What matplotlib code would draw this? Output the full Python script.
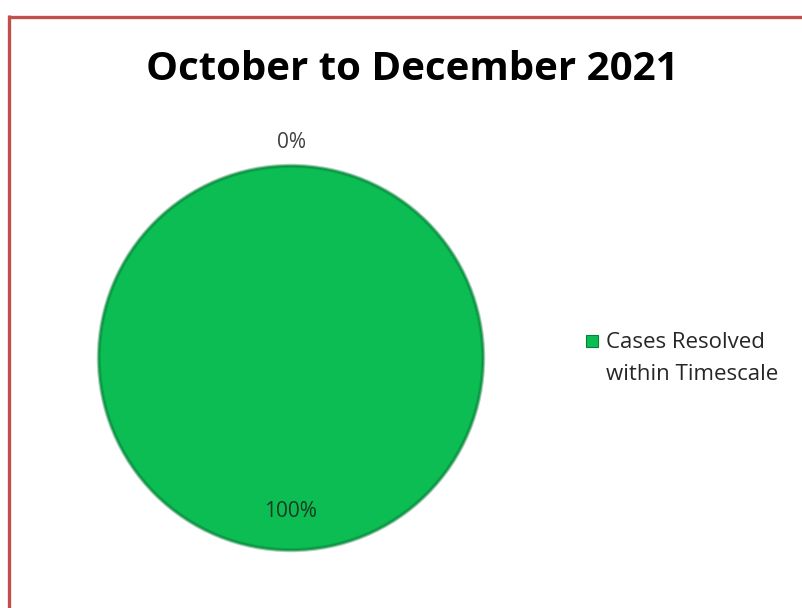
import matplotlib
matplotlib.use("Agg")
import matplotlib.pyplot as plt
from matplotlib.patches import Rectangle, Circle
from matplotlib.lines import Line2D
import numpy as np

title = "October to December 2021"
categories = ["Cases Resolved within Timescale", "Cases Not Resolved within Timescale"]
values = [100, 0]
legend_labels = ["Cases Resolved\nwithin Timescale"]

W, H = 803, 608
fig = plt.figure(figsize=(W / 100, H / 100), dpi=100)
fig.patch.set_facecolor("white")

def fx(px):
    return px / W

def fy(py):
    return 1 - py / H

# border
border_col = "#C0504D"
fig.add_artist(Line2D([fx(8), 1.0], [fy(16.5), fy(16.5)], color=border_col, lw=2.4,
                      transform=fig.transFigure, solid_capstyle="butt"))
fig.add_artist(Line2D([fx(8.5), fx(8.5)], [fy(15), 0.0], color=border_col, lw=2.4,
                      transform=fig.transFigure, solid_capstyle="butt"))

# pie axes: center (291,358), radius 196
cx, cy, r = 291, 358, 196
ax = fig.add_axes([fx(cx - r), fy(cy + r), (2 * r) / W, (2 * r) / H])
green = "#0BBD52"
wedges, _ = ax.pie(values, colors=[green, "#C0504D"], startangle=90, counterclock=False,
                   radius=1.0, wedgeprops=dict(edgecolor="none", linewidth=0))
# soft darker rim
for lw, a in [(3.0, 0.35), (1.5, 0.6)]:
    ax.add_patch(Circle((0, 0), 1.0, fill=False, edgecolor="#06853A", lw=lw, alpha=a))
ax.set_xlim(-1.02, 1.02)
ax.set_ylim(-1.02, 1.02)
ax.set_aspect("auto")
ax.axis("off")

total = sum(values)
for w, v in zip(wedges, values):
    theta = np.deg2rad((w.theta1 + w.theta2) / 2)
    pct = 100 * v / total
    if pct > 0:
        rr, col = 0.80, "#173A22"
    else:
        rr, col = 1.12, "#404040"
    ax.text(rr * np.cos(theta), rr * np.sin(theta), f"{pct:.0f}%", ha="center", va="center",
            fontsize=15, color=col, family="Open Sans")

fig.text(fx(412), fy(69), title, ha="center", va="center", fontsize=29,
         fontweight="bold", family="Open Sans", color="black")

# legend
fig.add_artist(Rectangle((fx(586), fy(347)), fx(12), 12 / H, transform=fig.transFigure,
                         facecolor=green, edgecolor="#07803A", lw=0.8))
for i, line in enumerate(legend_labels[0].split("\n")):
    fig.text(fx(606), fy(348 + 32 * i), line, ha="left", va="baseline", fontsize=16,
             family="Open Sans", color="#262626")

fig.savefig("out.png", dpi=100)
